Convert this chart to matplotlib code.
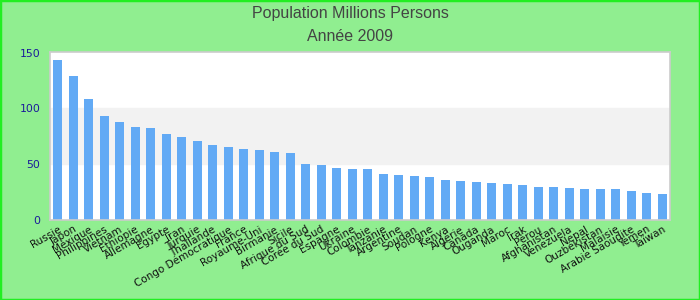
import matplotlib
matplotlib.use("Agg")
import matplotlib.pyplot as plt
from matplotlib.patches import Rectangle

countries = ["Russie", "Japon", "Mexique", "Philippines", "Vietnam", "Ethiopie",
             "Allemagne", "Egypte", "Iran", "Turquie", "Thaïlande",
             "Congo Démocratique", "France", "Royaume-Uni", "Birmanie", "Sicile",
             "Afrique du Sud", "Corée du Sud", "Espagne", "Ukraine", "Colombie",
             "Tanzanie", "Argentine", "Soudan", "Pologne", "Kenya", "Algérie",
             "Canada", "Ouganda", "Maroc", "Irak", "Pérou", "Afghanistan",
             "Venezuela", "Nepal", "Ouzbékistan", "Malaisie", "Arabie Saoudite",
             "Yemen", "Taïwan"]
population = [142.9, 128.6, 108.0, 92.9, 87.5, 83.0, 82.1, 76.8, 74.1, 70.5,
              67.0, 65.2, 63.4, 62.5, 60.7, 59.8, 50.0, 49.1, 46.4, 45.5,
              45.5, 41.1, 40.2, 39.3, 38.4, 35.7, 34.8, 33.9, 33.0, 32.1,
              31.3, 29.5, 29.5, 28.6, 27.7, 27.7, 27.7, 25.9, 24.1, 23.2]
yticks = [0, 50, 100, 150]
title_lines = ["Population Millions Persons", "Année 2009"]

fig = plt.figure(figsize=(7, 3), dpi=100, facecolor="#90EE90")
fig.patches.append(Rectangle((0, 0), 1, 1, transform=fig.transFigure,
                             fill=False, edgecolor="#22ee22", linewidth=2.5))
ax = fig.add_axes([50 / 700, 1 - 220 / 300, 620 / 700, 168 / 300])
ax.set_facecolor("white")
ax.axhspan(50, 100, color="#f2f2f2", zorder=0)
x = range(len(countries))
ax.bar(x, population, width=0.58, color="#62aaf5", zorder=2)
ax.set_xlim(-0.5, len(countries) - 0.5)
ax.set_ylim(0, 150.5)
ax.set_yticks(yticks)
ax.set_yticklabels([str(v) for v in yticks], color="#1a1a9a", fontsize=7.8)
ax.tick_params(axis="y", length=0, pad=7)
ax.set_xticks(list(x))
ax.set_xticklabels(countries, rotation=30, ha="right", rotation_mode="anchor",
                   fontsize=7.5, color="#111111")
ax.tick_params(axis="x", length=0, pad=3)
for s in ax.spines.values():
    s.set_color("#cccccc")
    s.set_linewidth(1.2)

tfont = ["Liberation Sans Narrow", "Liberation Sans", "DejaVu Sans"]
fig.text(0.5, 1 - 13.5 / 300, title_lines[0], ha="center", va="center",
         fontsize=11.5, color="#444444", family=tfont)
fig.text(0.5, 1 - 36.5 / 300, title_lines[1], ha="center", va="center",
         fontsize=11.5, color="#444444", family=tfont)

fig.savefig("out.png", dpi=100, facecolor=fig.get_facecolor())
